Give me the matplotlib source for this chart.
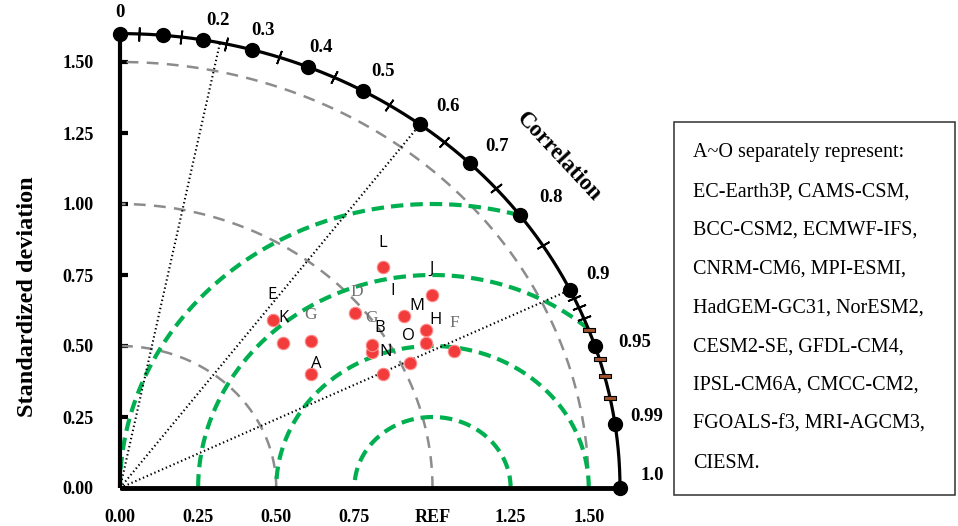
import numpy as np
import matplotlib
matplotlib.use("Agg")
import matplotlib.pyplot as plt
from matplotlib.path import Path
from matplotlib.patches import Rectangle

plt.rcParams['lines.scale_dashes'] = False

# ---------------- data ----------------
letters = ["A", "B", "D", "E", "F", "G", "G", "H", "I", "J", "K", "L", "M", "N", "O"]
std_dev = [0.731, 0.937, 0.972, 0.767, 1.172, 0.801, 0.950, 1.104, 1.094, 1.208, 0.731, 1.145, 1.127, 0.932, 1.026]
correl  = [0.835, 0.860, 0.774, 0.637, 0.912, 0.762, 0.848, 0.887, 0.832, 0.826, 0.715, 0.734, 0.869, 0.902, 0.904]
grey_letters = {"D", "F", "G"}

y_ticks = [0.0, 0.25, 0.5, 0.75, 1.0, 1.25, 1.5]
y_tick_labels = ["0.00", "0.25", "0.50", "0.75", "1.00", "1.25", "1.50"]
x_ticks = [0.0, 0.25, 0.5, 0.75, 1.0, 1.25, 1.5]
x_tick_labels = ["0.00", "0.25", "0.50", "0.75", "REF", "1.25", "1.50"]

corr_label_vals = [0, 0.2, 0.3, 0.4, 0.5, 0.6, 0.7, 0.8, 0.9, 0.95, 0.99, 1.0]
corr_label_text = ["0", "0.2", "0.3", "0.4", "0.5", "0.6", "0.7", "0.8", "0.9", "0.95", "0.99", "1.0"]
arc_dot_corr = [0, 0.086, 0.165, 0.264, 0.375, 0.485, 0.6, 0.7, 0.8, 0.9, 0.95, 0.99, 1.0]
arc_tick_corr = [0.038, 0.121, 0.212, 0.317, 0.427, 0.537, 0.647, 0.752, 0.845, 0.908, 0.917, 0.927]
arc_brown_corr = [0.938, 0.959, 0.969, 0.980]
corr_lines = [0.2, 0.6, 0.9]
std_arcs = [0.5, 1.0, 1.5]
rmsd_arcs = [0.25, 0.5, 0.75, 1.0]
ref_std = 1.0
max_std = 1.6

legend_lines = ["A~O separately represent:",
                "EC-Earth3P, CAMS-CSM,",
                "BCC-CSM2, ECMWF-IFS,",
                "CNRM-CM6, MPI-ESMI,",
                "HadGEM-GC31, NorESM2,",
                "CESM2-SE, GFDL-CM4,",
                "IPSL-CM6A, CMCC-CM2,",
                "FGOALS-f3, MRI-AGCM3,",
                "CIESM."]

# ---------------- layout ----------------
W, H = 958, 526
fig = plt.figure(figsize=(W / 100, H / 100), dpi=100)
ax = fig.add_axes([120 / W, (H - 488) / H, 500 / W, 454.4 / H])
ax.set_xlim(0, max_std)
ax.set_ylim(0, max_std)
for s in ax.spines.values():
    s.set_visible(False)

serif = "Liberation Serif"


def xy(r, c):
    c = np.asarray(c, dtype=float)
    th = np.arccos(c)
    return r * np.cos(th), r * np.sin(th)


# grey std arcs
th = np.linspace(0, np.pi / 2, 300)
for r in std_arcs:
    ax.plot(r * np.cos(th), r * np.sin(th), color="#8c8c8c", lw=1.8,
            linestyle=(0, (8.5, 6)), clip_on=False, zorder=2)

# green rmsd arcs centred on REF
t = np.linspace(0, np.pi, 600)
for R in rmsd_arcs:
    gx = ref_std + R * np.cos(t)
    gy = R * np.sin(t)
    m = (gx ** 2 + gy ** 2 <= max_std ** 2 + 1e-9) & (gx >= -1e-9)
    ax.plot(gx[m], gy[m], color="#00B050", lw=3.0,
            linestyle=(0, (9, 5)), clip_on=False, zorder=2)

# dotted correlation lines
for c in corr_lines:
    ex, ey = xy(max_std, c)
    ax.plot([0, ex], [0, ey], color="black", lw=1.5, linestyle=(0, (1, 2)),
            clip_on=False, zorder=2)

# axes lines and outer arc
ax.plot([0, max_std], [0, 0], color="black", lw=3.5, clip_on=False, zorder=4,
        solid_capstyle="butt")
ax.plot([0, 0], [0, max_std], color="black", lw=3.0, clip_on=False, zorder=4,
        solid_capstyle="butt")
ax.plot(max_std * np.cos(th), max_std * np.sin(th), color="black", lw=2.3,
        clip_on=False, zorder=4)

# radial ticks on the arc
sx, sy = 312.5, 284.0
for c in arc_tick_corr:
    px, py = xy(max_std, c)
    ang = np.degrees(np.arctan2(py * sy, px * sx))
    ax.plot([px], [py], marker=(2, 2, ang - 90), markersize=10,
            markeredgewidth=1.3, color="black", clip_on=False, zorder=5)

rect = Path([(-1, -0.3), (1, -0.3), (1, 0.3), (-1, 0.3), (-1, -0.3)],
            [Path.MOVETO, Path.LINETO, Path.LINETO, Path.LINETO, Path.CLOSEPOLY])
bx, by = xy(max_std, arc_brown_corr)
ax.plot(bx, by, linestyle="none", marker=rect, markersize=9,
        markerfacecolor="#A0522D", markeredgecolor="black", markeredgewidth=0.8,
        clip_on=False, zorder=5)

dx, dy = xy(max_std, arc_dot_corr)
ax.plot(dx, dy, linestyle="none", marker="o", markersize=10, color="black",
        clip_on=False, zorder=6)

# correlation labels
corr_offsets = [(0, 21), (-2, 22), (-7, 24), (1, 24), (13, 23), (28, 18),
                (27, 17), (31, 18), (28, 15), (40, 4), (32, 7), (32, 12)]
for c, txt, off in zip(corr_label_vals, corr_label_text, corr_offsets):
    px, py = xy(max_std, c)
    ax.annotate(txt, (px, py), xytext=off, textcoords="offset pixels",
                ha="center", va="center", fontsize=13.5, fontweight="bold",
                family=serif, annotation_clip=False)

# model points
mx, my = xy(np.array(std_dev), correl)
ax.scatter(mx, my, s=80, color="#F23B3B", edgecolors="#FF8A8A",
           linewidths=0.8, zorder=7, clip_on=False)

letter_offsets = [(6, 10), (8, 24), (2, 21), (-1, 25), (0, 28), (0, 26), (0, 27),
                  (9, 23), (-12, 25), (0, 26), (0, 25), (0, 24), (-9, 24), (3, 22), (-1, 27)]
for L, x0, y0, off in zip(letters, mx, my, letter_offsets):
    if L in grey_letters:
        ax.annotate(L, (x0, y0), xytext=off, textcoords="offset pixels",
                    ha="center", va="center", fontsize=12.5, color="#707070",
                    family=serif, zorder=8)
    else:
        ax.annotate(L, (x0, y0), xytext=off, textcoords="offset pixels",
                    ha="center", va="center", fontsize=12, color="black",
                    family="Open Sans", zorder=8)

# ticks
ax.set_yticks(y_ticks)
ax.set_yticklabels(y_tick_labels)
ax.set_xticks(x_ticks)
ax.set_xticklabels(x_tick_labels)
ax.tick_params(axis="y", direction="in", length=6, width=3, pad=19,
               labelsize=13, color="black")
ax.tick_params(axis="x", length=0, pad=15, labelsize=13)
for lab in ax.get_xticklabels() + ax.get_yticklabels():
    lab.set_fontweight("bold")
    lab.set_family(serif)

# titles
fig.text(28 / W, 1 - 297 / H, "Standardized deviation", rotation=90,
         ha="center", va="center", fontsize=17.5, fontweight="bold", family=serif)
fig.text(559 / W, 1 - 157 / H, "Correlation", rotation=-47,
         ha="center", va="center", fontsize=16.5, fontweight="bold", family=serif)

# legend box
fig.patches.append(Rectangle((674 / W, 1 - 495 / H), (955 - 674) / W, (495 - 122) / H,
                             transform=fig.transFigure, fill=False,
                             edgecolor="#303030", lw=1.1))
for i, line in enumerate(legend_lines):
    fig.text(693 / W, 1 - (153 + i * 38.75) / H, line, ha="left", va="center",
             fontsize=14.5, family=serif)

fig.savefig("out.png", dpi=100)
